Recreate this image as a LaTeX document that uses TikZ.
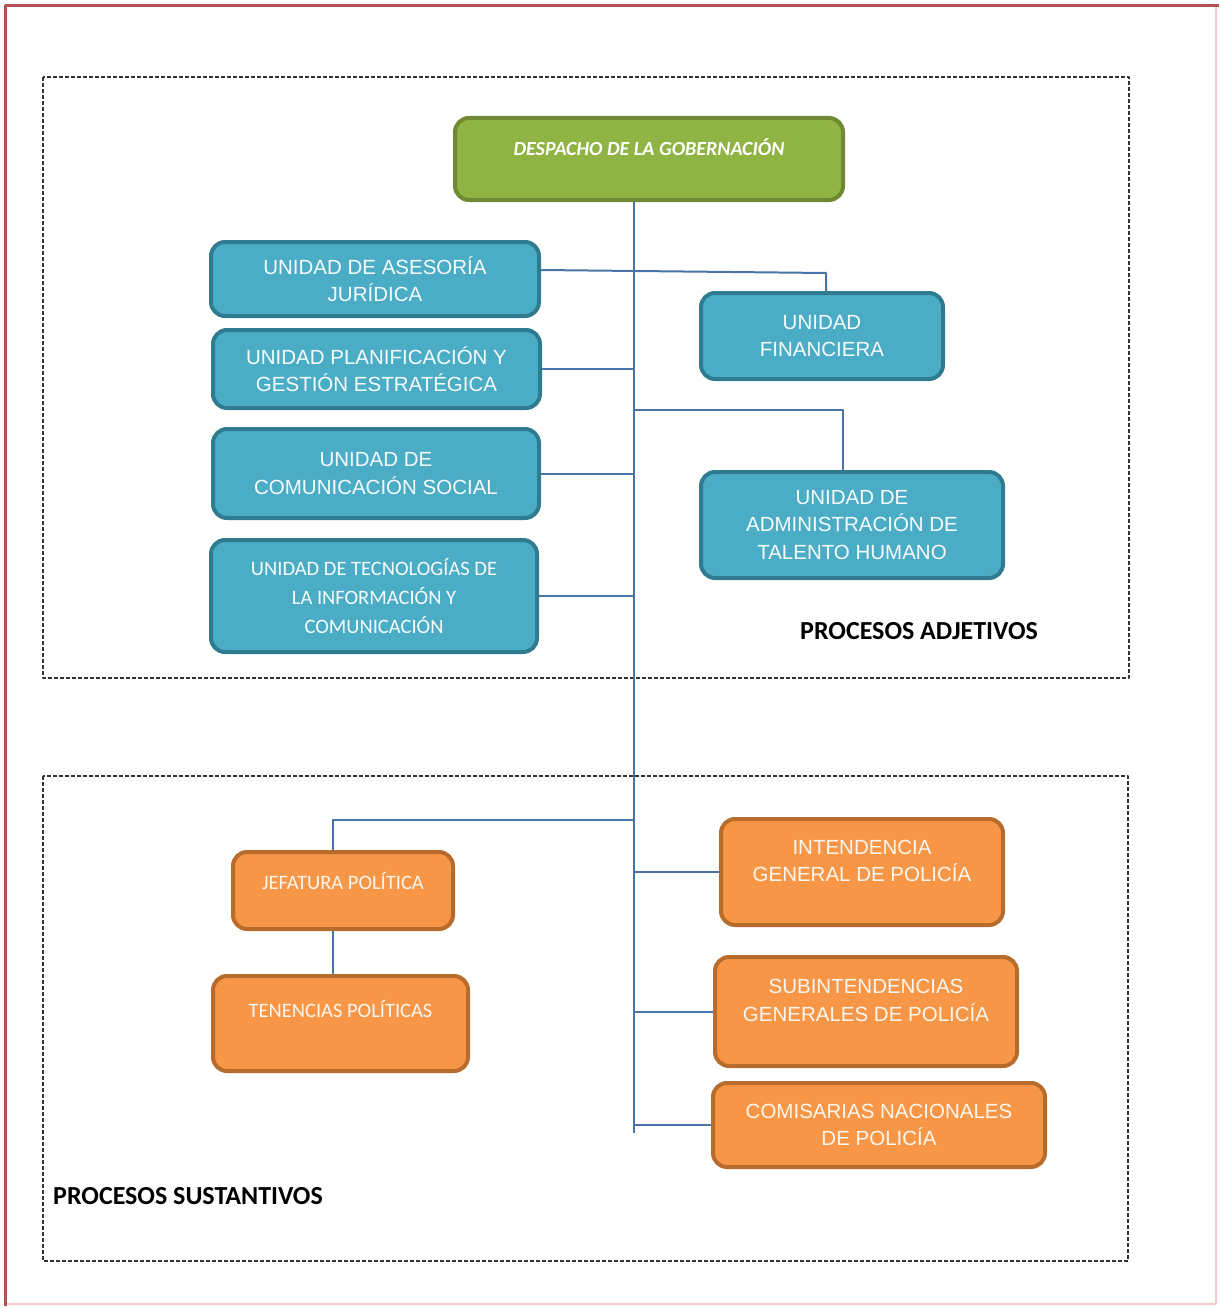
\documentclass[tikz,border=0pt]{standalone}
\usepackage{fontspec}
\setmainfont{Carlito}
\newfontfamily\arialf{Liberation Sans}
\usetikzlibrary{calc}

\definecolor{framered}{HTML}{B0534E}
\definecolor{framepink}{HTML}{F3CACA}
\definecolor{greenfill}{HTML}{8FB443}
\definecolor{greenline}{HTML}{6F8A31}
\definecolor{bluefill}{HTML}{4BACC6}
\definecolor{blueline}{HTML}{2F7C91}
\definecolor{orangefill}{HTML}{F79646}
\definecolor{orangeline}{HTML}{B76B2D}
\definecolor{linkcol}{HTML}{4A74A6}

\tikzset{
  orgbox/.style={rounded corners=14pt, line width=4pt, align=center, inner sep=2pt},
  greenbox/.style={orgbox, fill=greenfill, draw=greenline, text=white,
    font=\fontsize{20}{29}\selectfont\bfseries\itshape},
  bluebox/.style={orgbox, fill=bluefill, draw=blueline, text=white!95!bluefill,
    font=\arialf\fontsize{20.5}{27.5}\selectfont},
  blueboxc/.style={bluebox, font=\fontsize{20.5}{29}\selectfont},
  orangebox/.style={orgbox, fill=orangefill, draw=orangeline, text=white!92!orangefill,
    font=\arialf\fontsize{20.5}{27.5}\selectfont},
  orangeboxc/.style={orangebox, font=\fontsize{20.5}{29}\selectfont},
  link/.style={draw=linkcol, line width=2pt},
  zone/.style={draw=black!80, line width=1.2pt, dash pattern=on 4pt off 2pt},
  zonetitle/.style={font=\fontsize{26}{30}\selectfont\bfseries, inner sep=0pt}
}

\begin{document}
\begin{tikzpicture}[x=1pt, y=-1pt, line join=round]
\useasboundingbox (0,0) rectangle (1219,1308);

% page frame
\draw[framepink, line width=2pt] (5,1304) -- (1216,1304) -- (1216,6);
\draw[framered, line width=3pt] (5,1306) -- (5,6) -- (1219,6);

% zones
\draw[zone] (43,77) rectangle (1129,678);
\draw[zone] (43,776) rectangle (1128,1261);
\node[zonetitle, anchor=west] (adjetivos) at (800,631) {PROCESOS ADJETIVOS};
\node[zonetitle, anchor=west] (sustantivos) at (53,1196) {PROCESOS SUSTANTIVOS};

% boxes
\node[greenbox, minimum width=388pt, minimum height=82pt] (despacho) at (649,159)
  {DESPACHO DE LA GOBERNACIÓN\\[-5pt]~};

\node[bluebox, minimum width=328pt, minimum height=74pt] (asesoria) at (375,279)
  {UNIDAD DE ASESORÍA\\JURÍDICA};
\node[bluebox, minimum width=327pt, minimum height=78pt] (plan) at (376.5,369)
  {UNIDAD PLANIFICACIÓN Y\\GESTIÓN ESTRATÉGICA};
\node[bluebox, minimum width=326pt, minimum height=89pt] (comun) at (376,473.5)
  {UNIDAD DE\\COMUNICACIÓN SOCIAL};
\node[blueboxc, minimum width=326pt, minimum height=112pt] (tic) at (374,596)
  {UNIDAD DE TECNOLOGÍAS DE\\LA INFORMACIÓN Y\\COMUNICACIÓN};
\node[bluebox, minimum width=242pt, minimum height=86pt] (financiera) at (822,336)
  {UNIDAD\\FINANCIERA};
\node[bluebox, minimum width=302pt, minimum height=106pt] (talento) at (852,525)
  {UNIDAD DE\\ADMINISTRACIÓN DE\\TALENTO HUMANO};

\node[orangeboxc, minimum width=220pt, minimum height=77pt] (jefatura) at (343,890.5)
  {JEFATURA POLÍTICA\\[-10pt]~};
\node[orangeboxc, minimum width=255pt, minimum height=95pt] (tenencias) at (340.5,1023.5)
  {TENENCIAS POLÍTICAS\\[0pt]~};
\node[orangebox, minimum width=282pt, minimum height=106pt] (intend) at (862,872)
  {INTENDENCIA\\GENERAL DE POLICÍA\\[-5.5pt]~};
\node[orangebox, minimum width=302pt, minimum height=109pt] (subint) at (866,1011.5)
  {SUBINTENDENCIAS\\GENERALES DE POLICÍA\\[-5.5pt]~};
\node[orangebox, minimum width=332pt, minimum height=84pt] (comis) at (879,1125)
  {COMISARIAS NACIONALES\\DE POLICÍA};

% trunk
\path
(634,1133) coordinate (trunkend)
(634,410) coordinate (tjoin)
(634,820) coordinate (jjoin)
(333,850) coordinate (jtop)
(843,470) coordinate (ttop);

\draw[link] (despacho.south -| trunkend) -- (trunkend);
\draw[link] ([yshift=9pt]asesoria.east) -- ([yshift=6pt,xshift=4pt]asesoria.east -| financiera.north) -- ([xshift=4pt]financiera.north);
\draw[link] (tjoin) -| (ttop);
\draw[link] (jjoin) -| (jtop);
\draw[link] (jefatura.south -| jtop) -- (tenencias.north -| jtop);
\foreach \unidad in {plan, comun, tic}
  \draw[link] (\unidad.east) -- (\unidad.east -| trunkend);
\foreach \unidad in {intend, subint, comis}
  \draw[link] (\unidad.west) -- (\unidad.west -| trunkend);
\end{tikzpicture}
\end{document}
